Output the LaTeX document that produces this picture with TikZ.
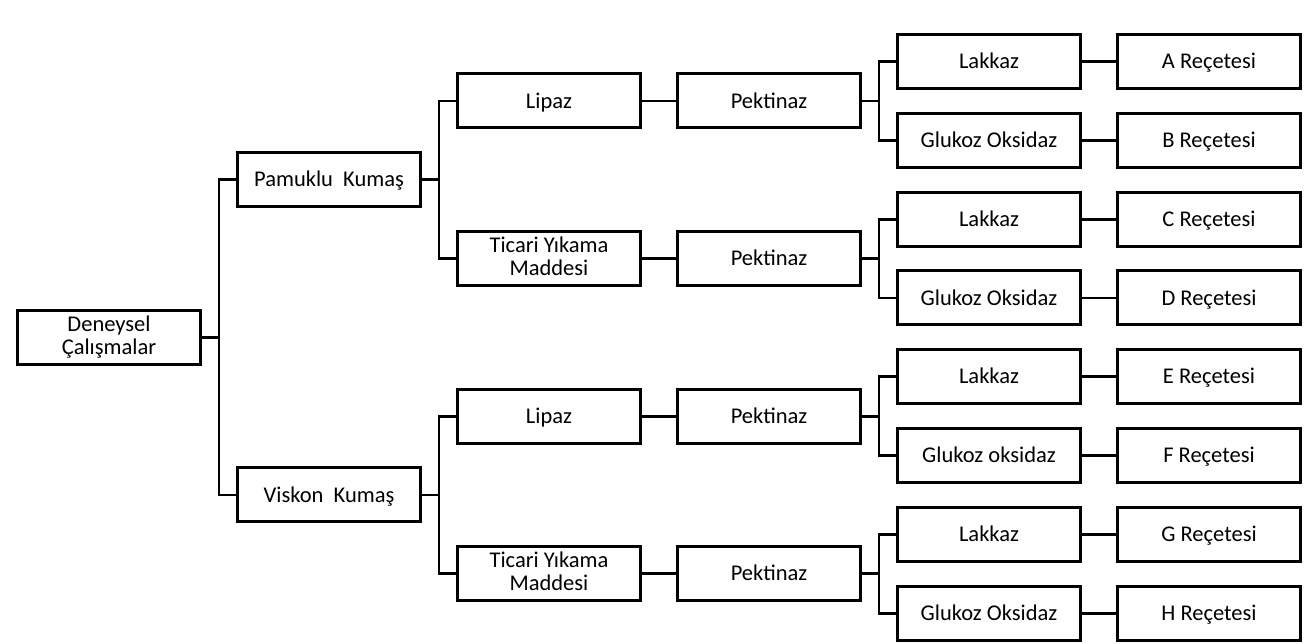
\documentclass[tikz,border=0pt]{standalone}
\usepackage{fontspec}
\setmainfont{Carlito}
\usetikzlibrary{positioning, calc}

\newcommand{\boxstrut}{\rule[-2.3pt]{0pt}{11.8pt}}

\begin{document}
\begin{tikzpicture}[
    node distance=12.4pt and 18.5pt,
    box/.style={draw, line width=1.5pt, outer sep=0pt, minimum width=91.5pt, minimum height=27pt, inner sep=1pt, align=center,
        font=\fontsize{11.25pt}{11.6pt}\selectfont, execute at begin node=\boxstrut, execute at end node=\boxstrut},
    conn/.style={line width=1.4pt},
    half/.store in=\halfgap, half=9.25pt
]
\useasboundingbox (0,0) rectangle (655.5pt,-321.5pt);

%% Enzyme column
\node[box] (lak1) at (494.5pt,-30.75pt) {Lakkaz};
\node[box, below=of lak1] (glu1) {Glukoz Oksidaz};
\node[box, below=of glu1] (lak2) {Lakkaz};
\node[box, below=of lak2] (glu2) {Glukoz Oksidaz};
\node[box, below=of glu2] (lak3) {Lakkaz};
\node[box, below=of lak3] (glu3) {Glukoz oksidaz};
\node[box, below=of glu3] (lak4) {Lakkaz};
\node[box, below=of lak4] (glu4) {Glukoz Oksidaz};

%% Recipes
\node[box, right=of lak1] (recA) {A Reçetesi};
\node[box, right=of glu1] (recB) {B Reçetesi};
\node[box, right=of lak2] (recC) {C Reçetesi};
\node[box, right=of glu2] (recD) {D Reçetesi};
\node[box, right=of lak3] (recE) {E Reçetesi};
\node[box, right=of glu3] (recF) {F Reçetesi};
\node[box, right=of lak4] (recG) {G Reçetesi};
\node[box, right=of glu4] (recH) {H Reçetesi};

%% Pektinaz
\node[box, left=of $(lak1.west)!0.5!(glu1.west)$] (pek1) {Pektinaz};
\node[box, left=of $(lak2.west)!0.5!(glu2.west)$] (pek2) {Pektinaz};
\node[box, left=of $(lak3.west)!0.5!(glu3.west)$] (pek3) {Pektinaz};
\node[box, left=of $(lak4.west)!0.5!(glu4.west)$] (pek4) {Pektinaz};

%% Pre-treatment
\node[box, left=of pek1] (lip1) {Lipaz};
\node[box, left=of pek2] (tic1) {Ticari Yıkama\\Maddesi};
\node[box, left=of pek3] (lip2) {Lipaz};
\node[box, left=of pek4] (tic2) {Ticari Yıkama\\Maddesi};

%% Fabrics
\node[box, left=of $(lip1.west)!0.5!(tic1.west)$] (pam) {Pamuklu~~Kumaş};
\node[box, left=of $(lip2.west)!0.5!(tic2.west)$] (vis) {Viskon~~Kumaş};

%% Root
\node[box, left=of $(pam.west)!0.5!(vis.west)$] (root) {Deneysel\\Çalışmalar};

%% Connectors
\draw[conn] (root.east) -- ++(\halfgap,0) |- (pam.west);
\draw[conn] (root.east) -- ++(\halfgap,0) |- (vis.west);
\draw[conn] (pam.east) -- ++(\halfgap,0) |- (lip1.west);
\draw[conn] (pam.east) -- ++(\halfgap,0) |- (tic1.west);
\draw[conn] (vis.east) -- ++(\halfgap,0) |- (lip2.west);
\draw[conn] (vis.east) -- ++(\halfgap,0) |- (tic2.west);
\draw[conn] (lip1) -- (pek1);
\draw[conn] (tic1) -- (pek2);
\draw[conn] (lip2) -- (pek3);
\draw[conn] (tic2) -- (pek4);
\draw[conn] (pek1.east) -- ++(\halfgap,0) |- (lak1.west);
\draw[conn] (pek1.east) -- ++(\halfgap,0) |- (glu1.west);
\draw[conn] (pek2.east) -- ++(\halfgap,0) |- (lak2.west);
\draw[conn] (pek2.east) -- ++(\halfgap,0) |- (glu2.west);
\draw[conn] (pek3.east) -- ++(\halfgap,0) |- (lak3.west);
\draw[conn] (pek3.east) -- ++(\halfgap,0) |- (glu3.west);
\draw[conn] (pek4.east) -- ++(\halfgap,0) |- (lak4.west);
\draw[conn] (pek4.east) -- ++(\halfgap,0) |- (glu4.west);
\draw[conn] (lak1) -- (recA);
\draw[conn] (glu1) -- (recB);
\draw[conn] (lak2) -- (recC);
\draw[conn] (glu2) -- (recD);
\draw[conn] (lak3) -- (recE);
\draw[conn] (glu3) -- (recF);
\draw[conn] (lak4) -- (recG);
\draw[conn] (glu4) -- (recH);

\end{tikzpicture}
\end{document}
